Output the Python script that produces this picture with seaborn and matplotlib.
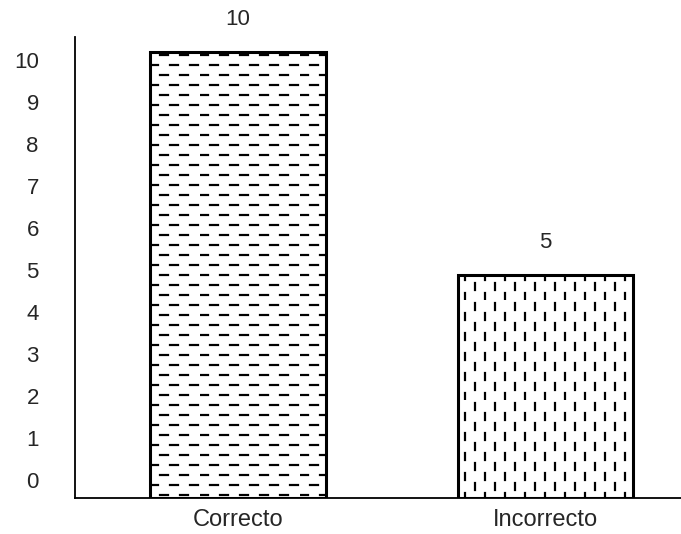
import numpy as np
import matplotlib
matplotlib.use("Agg")
import matplotlib.pyplot as plt
import matplotlib.hatch as mhatch
from matplotlib.path import Path
import seaborn as sns

# data
categories = ["Correcto", "Incorrecto"]
counts = [10, 5]
tick_labels = [str(i) for i in range(11)]


# dashed hatches (the scanned chart uses broken lines, not solid ones)
class DashRows(mhatch.HatchPatternBase):
    rows, per_row, dash = 10, 5, 0.08

    def __init__(self, hatch, density):
        self.num_vertices = self.rows * self.per_row * 2 if "-" in hatch else 0

    def set_vertices_and_codes(self, vertices, codes):
        k = 0
        for i in range(self.rows):
            y = (i + 0.5) / self.rows
            off = 0.5 / self.per_row if i % 2 else 0.0
            for j in range(self.per_row):
                x0 = j / self.per_row + off
                vertices[k] = (x0, y)
                vertices[k + 1] = (x0 + self.dash, y)
                codes[k] = Path.MOVETO
                codes[k + 1] = Path.LINETO
                k += 2


class DashCols(mhatch.HatchPatternBase):
    cols, per_col, dash = 10, 5, 0.07

    def __init__(self, hatch, density):
        self.num_vertices = self.cols * self.per_col * 2 if "|" in hatch else 0

    def set_vertices_and_codes(self, vertices, codes):
        k = 0
        for i in range(self.cols):
            x = (i + 0.5) / self.cols
            off = 0.5 / self.per_col if i % 2 else 0.0
            for j in range(self.per_col):
                y0 = j / self.per_col + off
                vertices[k] = (x, y0)
                vertices[k + 1] = (x, y0 + self.dash)
                codes[k] = Path.MOVETO
                codes[k + 1] = Path.LINETO
                k += 2


mhatch._hatch_types = [DashRows, DashCols]

sns.set_style("white")
plt.rcParams["font.family"] = ["Liberation Sans", "DejaVu Sans"]
plt.rcParams["hatch.linewidth"] = 1.6
plt.rcParams["hatch.color"] = "black"

fig = plt.figure(figsize=(6.81, 5.34), dpi=100)
ax = fig.add_axes([0.110, 0.0674, 0.890, 0.8636])

sns.barplot(x=categories, y=counts, color="white", edgecolor="black",
            linewidth=2.2, width=0.57, saturation=1, ax=ax)

for patch, h in zip(ax.patches, ["-", "|"]):
    patch.set_hatch(h)
    patch.set_facecolor("white")

ax.bar_label(ax.containers[0], labels=[str(c) for c in counts],
             padding=16, fontsize=16)

ax.set_xlim(-0.53, 1.44)
ax.set_ylim(0, 10.34)
# tick labels sit slightly off the value grid in the original
ax.set_yticks(np.linspace(0.4, 9.82, len(tick_labels)))
ax.set_yticklabels(tick_labels)
ax.tick_params(axis="y", length=0, pad=26, labelsize=16)
ax.tick_params(axis="x", length=0, pad=8, labelsize=17)
ax.set_xlabel("")
ax.set_ylabel("")

sns.despine(ax=ax)
for s in ["left", "bottom"]:
    ax.spines[s].set_linewidth(1.3)
    ax.spines[s].set_color("black")

fig.savefig("out.png", dpi=100)
